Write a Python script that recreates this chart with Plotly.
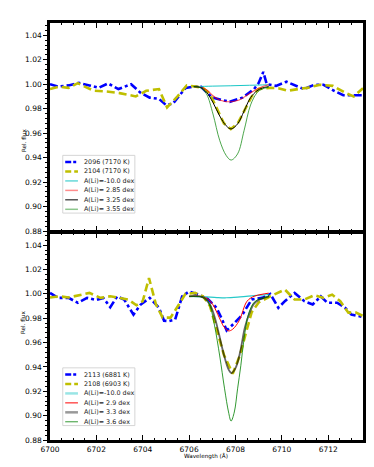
import plotly.graph_objects as go

# ---------------- data: top panel ----------------
top_blue_wl = [6700.0, 6700.35, 6700.8, 6701.25, 6701.7, 6702.1, 6702.5, 6702.95, 6703.5, 6703.9,
               6704.3, 6704.7, 6705.0, 6705.3, 6705.55, 6705.85, 6706.2, 6706.5, 6707.0, 6707.4,
               6707.75, 6708.3, 6708.8, 6709.0, 6709.2, 6709.35, 6709.75, 6710.2, 6710.6, 6710.95,
               6711.4, 6711.8, 6712.25, 6712.65, 6713.1, 6713.5]
top_blue_fl = [1.000, 0.998, 0.999, 1.001, 0.999, 0.997, 1.0006, 0.996, 1.000, 0.993,
               0.989, 0.988, 0.983, 0.984, 0.990, 0.997, 0.998, 0.998, 0.989, 0.987,
               0.9856, 0.989, 0.996, 1.001, 1.010, 1.000, 0.9986, 1.002, 0.9986, 0.996,
               0.9995, 0.9995, 0.9946, 0.991, 0.991, 0.991]

top_yell_wl = [6700.0, 6700.4, 6700.8, 6701.2, 6701.5, 6701.9, 6702.45, 6703.0, 6703.7, 6704.15,
               6704.7, 6705.05, 6705.5, 6705.9, 6706.3, 6706.6, 6706.9, 6707.2, 6707.5, 6707.8,
               6708.1, 6708.4, 6708.7, 6709.0, 6709.45, 6709.85, 6710.25, 6710.7, 6711.1, 6711.65,
               6712.2, 6712.8, 6713.1, 6713.5]
top_yell_fl = [0.996, 0.998, 0.997, 1.0008, 0.998, 0.9946, 0.994, 0.9927, 0.990, 0.9946,
               0.996, 0.981, 0.990, 0.999, 0.998, 0.997, 0.992, 0.980, 0.968, 0.9634,
               0.968, 0.979, 0.990, 0.996, 0.997, 0.9967, 0.9946, 0.996, 0.997, 0.9995,
               0.9986, 0.9924, 0.990, 0.9967]

top_cyan_wl = [6706.2, 6707.0, 6707.8, 6708.6, 6709.43]
top_cyan_fl = [0.998, 0.9984, 0.9987, 0.9991, 0.9995]

top_red_wl = [6706.2, 6706.5, 6706.75, 6707.03, 6707.32, 6707.55, 6707.74, 6707.95, 6708.16, 6708.58, 6709.0, 6709.43]
top_red_fl = [0.998, 0.9975, 0.9955, 0.9905, 0.987, 0.9858, 0.9856, 0.9861, 0.987, 0.992, 0.9967, 0.9995]

top_blk_wl = [6706.2, 6706.5, 6706.75, 6707.03, 6707.32, 6707.6, 6707.81, 6708.09, 6708.37, 6708.65, 6708.93, 6709.15, 6709.43]
top_blk_fl = [0.998, 0.9972, 0.9935, 0.985, 0.974, 0.966, 0.9634, 0.9675, 0.978, 0.989, 0.9946, 0.9968, 0.998]

top_grn_wl = [6706.2, 6706.5, 6706.75, 6707.03, 6707.32, 6707.6, 6707.81, 6708.09, 6708.37, 6708.65, 6708.93, 6709.15, 6709.43]
top_grn_fl = [0.998, 0.997, 0.992, 0.9756, 0.954, 0.9417, 0.938, 0.943, 0.962, 0.983, 0.993, 0.996, 0.9975]

# ---------------- data: bottom panel ----------------
bot_blue_wl = [6700.0, 6700.35, 6700.8, 6701.2, 6701.6, 6702.0, 6702.3, 6702.6, 6702.9, 6703.2,
               6703.6, 6703.9, 6704.3, 6704.7, 6704.92, 6705.13, 6705.4, 6705.7, 6706.0, 6706.45,
               6706.8, 6707.18, 6707.4, 6707.62, 6707.9, 6708.3, 6708.7, 6709.15, 6709.5, 6709.85,
               6710.13, 6710.55, 6710.97, 6711.33, 6711.68, 6711.96, 6712.38, 6712.73, 6713.0, 6713.36,
               6713.5]
bot_blue_fl = [1.0008, 0.9967, 0.9967, 0.9927, 0.9967, 0.995, 0.9967, 0.989, 0.998, 0.9953,
               0.983, 0.991, 0.9967, 0.9886, 0.978, 0.9777, 0.979, 0.998, 1.002, 0.999,
               0.996, 0.9886, 0.980, 0.970, 0.975, 0.983, 0.9954, 0.9967, 1.000, 0.9886,
               0.994, 1.0008, 0.994, 0.9913, 0.998, 0.9927, 0.9927, 0.9886, 0.983, 0.9818,
               0.981]

bot_yell_wl = [6700.0, 6700.4, 6700.8, 6701.2, 6701.7, 6702.18, 6702.6, 6703.0, 6703.38, 6703.73,
               6704.0, 6704.27, 6704.57, 6704.86, 6705.2, 6705.56, 6705.84, 6706.26, 6706.6, 6706.9,
               6707.2, 6707.5, 6707.88, 6708.2, 6708.45, 6708.7, 6709.0, 6709.5, 6710.13, 6710.55,
               6710.97, 6711.4, 6711.8, 6712.17, 6712.52, 6712.87, 6713.2, 6713.5]
bot_yell_fl = [0.997, 0.998, 0.997, 0.9989, 1.0008, 0.9967, 0.998, 0.9967, 0.9953, 0.9907,
               0.994, 1.013, 0.9913, 0.9805, 0.9805, 0.9913, 1.000, 1.0008, 0.998, 0.990,
               0.971, 0.950, 0.9344, 0.950, 0.968, 0.985, 0.993, 0.998, 1.0035, 0.9954,
               0.9954, 0.9989, 0.9967, 0.9994, 0.994, 0.9846, 0.9846, 0.9818]

bot_cyan_wl = [6706.0, 6706.6, 6707.2, 6707.6, 6708.2, 6708.8, 6709.45]
bot_cyan_fl = [0.998, 0.9977, 0.997, 0.9968, 0.9975, 0.9985, 0.9995]

bot_red_wl = [6706.0, 6706.47, 6706.8, 6707.03, 6707.3, 6707.5, 6707.7, 6707.88, 6708.16, 6708.5, 6708.8, 6709.1, 6709.43]
bot_red_fl = [0.998, 0.998, 0.996, 0.991, 0.9805, 0.973, 0.9696, 0.971, 0.978, 0.994, 0.998, 0.9995, 1.0006]

bot_gry_wl = [6706.0, 6706.6, 6706.9, 6707.1, 6707.3, 6707.5, 6707.7, 6707.83, 6708.0, 6708.2, 6708.4, 6708.6, 6708.8, 6709.0, 6709.45]
bot_gry_fl = [0.998, 0.997, 0.991, 0.981, 0.966, 0.950, 0.938, 0.935, 0.939, 0.952, 0.972, 0.984, 0.992, 0.995, 0.998]

bot_grn_wl = [6706.0, 6706.68, 6706.9, 6707.1, 6707.32, 6707.53, 6707.7, 6707.81, 6707.95, 6708.09, 6708.23, 6708.37, 6708.58, 6708.86, 6709.45]
bot_grn_fl = [0.998, 0.9967, 0.990, 0.9737, 0.949, 0.922, 0.903, 0.8956, 0.903, 0.922, 0.941, 0.963, 0.9846, 0.994, 0.998]

top_labels = ["2096 (7170 K)", "2104 (7170 K)", "A(Li)=-10.0 dex", "A(Li)= 2.85 dex", "A(Li)= 3.25 dex", "A(Li)= 3.55 dex"]
bot_labels = ["2113 (6881 K)", "2108 (6903 K)", "A(Li)=-10.0 dex", "A(Li)= 2.9 dex", "A(Li)= 3.3 dex", "A(Li)= 3.6 dex"]

x_ticks = [6700, 6702, 6704, 6706, 6708, 6710, 6712]
y_ticks = [0.88, 0.90, 0.92, 0.94, 0.96, 0.98, 1.00, 1.02, 1.04]

# ---------------- styles ----------------
BLUE = "#0000ff"
YELL = "#bfbf00"
DASHDOT = "8px,3px,3px,3px"
DASH = "8px,4px"

top_styles = [
    dict(color=BLUE, width=2.6, dash=DASHDOT),
    dict(color=YELL, width=2.6, dash=DASH),
    dict(color="#00bfbf", width=0.9),
    dict(color="rgba(255,0,0,0.65)", width=1.1),
    dict(color="#000000", width=1.0),
    dict(color="rgba(0,128,0,0.7)", width=1.0),
]
bot_styles = [
    dict(color=BLUE, width=2.6, dash=DASHDOT),
    dict(color=YELL, width=2.6, dash=DASH),
    dict(color="rgba(0,191,191,0.85)", width=1.2),
    dict(color="#ff0000", width=1.0),
    dict(color="rgba(0,0,0,0.6)", width=1.8),
    dict(color="rgba(0,128,0,0.8)", width=1.0),
]
bot_leg_styles = list(bot_styles)
bot_leg_styles[2] = dict(color="rgba(0,191,191,0.4)", width=2.5)
bot_leg_styles[4] = dict(color="rgba(0,0,0,0.4)", width=2.5)
top_leg_styles = list(top_styles)
top_leg_styles[3] = dict(color="rgba(255,0,0,0.45)", width=1.5)
top_leg_styles[5] = dict(color="rgba(0,128,0,0.45)", width=1.5)

fig = go.Figure()

top_series = [(top_blue_wl, top_blue_fl), (top_yell_wl, top_yell_fl), (top_cyan_wl, top_cyan_fl),
              (top_red_wl, top_red_fl), (top_blk_wl, top_blk_fl), (top_grn_wl, top_grn_fl)]
bot_series = [(bot_blue_wl, bot_blue_fl), (bot_yell_wl, bot_yell_fl), (bot_cyan_wl, bot_cyan_fl),
              (bot_red_wl, bot_red_fl), (bot_gry_wl, bot_gry_fl), (bot_grn_wl, bot_grn_fl)]

for i, ((wl, fl), st, name) in enumerate(zip(top_series, top_styles, top_labels)):
    fig.add_trace(go.Scatter(x=wl, y=fl, mode="lines", name=name, line=dict(**st, shape="spline" if i >= 2 else "linear"),
                             xaxis="x", yaxis="y", showlegend=False))
for i, ((wl, fl), st, name) in enumerate(zip(bot_series, bot_styles, bot_labels)):
    fig.add_trace(go.Scatter(x=wl, y=fl, mode="lines", name=name, line=dict(**st, shape="spline" if i >= 2 else "linear"),
                             xaxis="x2", yaxis="y2", showlegend=False))

# ---------------- layout ----------------
W, H = 374, 467
L, R, T, B = 42, 361, 13, 432
PW, PH = R - L, B - T

def px(xp):
    return (xp - L) / PW

def py(yp):
    return (B - yp) / PH

FONT = "DejaVu Sans, Arial, sans-serif"
axis_common = dict(showline=True, linecolor="black", linewidth=2.5, mirror="ticks", zeroline=False,
                   showgrid=False, tickcolor="black")
xcommon = dict(axis_common, range=[6700, 6713.5], tickvals=x_ticks, ticks="inside", ticklen=5, tickwidth=1.3,
               minor=dict(dtick=0.5, tick0=6700, ticks="inside", ticklen=2.5, tickwidth=1, tickcolor="black"),
               tickfont=dict(size=7.5, color="black", family=FONT))
ycommon = dict(axis_common, range=[0.88, 1.05], tickvals=y_ticks, tickformat=".2f", ticks="outside", ticklen=4,
               tickwidth=1.3,
               minor=dict(dtick=0.004, tick0=0.88, ticks="outside", ticklen=2, tickwidth=1, tickcolor="black"),
               tickfont=dict(size=7.5, color="black", family=FONT))

fig.update_layout(
    width=W, height=H,
    margin=dict(l=L, r=W - R, t=T, b=H - B, pad=0),
    paper_bgcolor="white", plot_bgcolor="white",
    xaxis=dict(xcommon, anchor="y", showticklabels=False, domain=[0, 1]),
    yaxis=dict(ycommon, anchor="x", domain=[py(222), 1]),
    xaxis2=dict(xcommon, anchor="y2", matches="x", domain=[0, 1]),
    yaxis2=dict(ycommon, anchor="x2", domain=[0, py(224)]),
    showlegend=False,
)

annotations = []
shapes = []

# axis titles
for yc in (117, 328):
    annotations.append(dict(x=px(10), y=py(yc), xref="paper", yref="paper", text="Rel. flux", textangle=-90,
                            showarrow=False, font=dict(size=5.7, color="black", family=FONT)))
annotations.append(dict(x=px(201), y=py(454), xref="paper", yref="paper", text="Wavelength (Å)",
                        showarrow=False, font=dict(size=5.7, color="black", family=FONT)))

# manual legends
def add_legend(box_top, labels, styles):
    shapes.append(dict(type="rect", xref="paper", yref="paper", x0=px(55), x1=px(128.5),
                       y0=py(box_top + 58), y1=py(box_top), line=dict(color="#cccccc", width=0.8),
                       fillcolor="rgba(255,255,255,0.85)", layer="above"))
    for k, (lab, st) in enumerate(zip(labels, styles)):
        yc = box_top + 6.7 + 9.5 * k
        ln = dict(color=st["color"], width=st["width"])
        if "dash" in st:
            ln["dash"] = "6px,2px,3px,2px" if st["dash"] == DASHDOT else "6px,3px"
        shapes.append(dict(type="line", xref="paper", yref="paper", x0=px(57.5), x1=px(70.5),
                           y0=py(yc), y1=py(yc), line=ln, layer="above"))
        annotations.append(dict(x=px(74.5), y=py(yc), xref="paper", yref="paper", text=lab, xanchor="left",
                                yanchor="middle", showarrow=False,
                                font=dict(size=6.4, color="#222222", family=FONT)))

add_legend(146, top_labels, top_leg_styles)
add_legend(359.5, bot_labels, bot_leg_styles)

fig.update_layout(annotations=annotations, shapes=shapes)
fig.write_html("out.html")
